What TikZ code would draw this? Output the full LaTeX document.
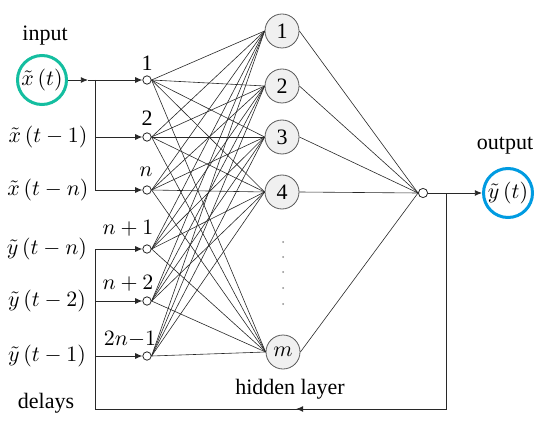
\documentclass[tikz,border=0pt]{standalone}
\usepackage{fontspec}
\setmainfont{Liberation Serif}
\usetikzlibrary{arrows.meta}
\definecolor{tealc}{RGB}{20,190,160}
\definecolor{bluec}{RGB}{0,155,225}
\definecolor{hfill}{RGB}{240,240,240}
\definecolor{linec}{RGB}{40,40,40}
\begin{document}
\begin{tikzpicture}[x=0.5pt,y=-0.5pt,
  font=\fontsize{11}{13}\selectfont,
  inp/.style={circle,draw=linec,fill=white,inner sep=0pt,minimum size=4.2pt,line width=0.4pt},
  hid/.style={circle,draw=black!65,fill=hfill,inner sep=0pt,minimum size=17pt,line width=0.4pt},
  ring/.style={circle,inner sep=0pt,minimum size=24.5pt,line width=1.5pt},
  conn/.style={draw=linec,line width=0.3pt},
  wire/.style={draw=linec,line width=0.45pt},
  arr/.style={wire,-{Latex[length=3.6pt,width=3pt]}},
  lbl/.style={inner sep=0pt}]
\useasboundingbox (0,0) rectangle (550,438);
% input / output rings
\node[ring,draw=tealc] (xin) at (42,80) {$\tilde{x}\,(t)$};
\node[lbl] (tin) at (45,36) {input};
\node[ring,draw=bluec] (yout) at (508,193) {$\tilde{y}\,(t)$};
\node[lbl] (tout) at (505,146) {output};
% left labels
\node[lbl] (lx1) at (48,137) {$\tilde{x}\,(t-1)$};
\node[lbl] (lx2) at (48,190) {$\tilde{x}\,(t-n)$};
\node[lbl] (ly1) at (47,249) {$\tilde{y}\,(t-n)$};
\node[lbl] (ly2) at (47,301) {$\tilde{y}\,(t-2)$};
\node[lbl] (ly3) at (47,356) {$\tilde{y}\,(t-1)$};
\node[lbl] (tdel) at (46,403) {delays};
\node[lbl] (thid) at (290,389) {hidden layer};
% input nodes
\node[inp] (i1) at (147,80) {};
\node[inp] (i2) at (147,137) {};
\node[inp] (i3) at (147,190) {};
\node[inp] (i4) at (147,249) {};
\node[inp] (i5) at (147,301) {};
\node[inp] (i6) at (147,356) {};
\node[lbl] (n1) at (147,63) {1};
\node[lbl] (n2) at (147,118) {2};
\node[lbl] (n3) at (146,172) {$n$};
\node[lbl] (n4) at (128,228) {$n+1$};
\node[lbl] (n5) at (128,283) {$n+2$};
\node[lbl] (n6) at (130,339) {$2n{-}1$};
% hidden nodes
\node[hid] (h1) at (282,31) {1};
\node[hid] (h2) at (282,86) {2};
\node[hid] (h3) at (282,137) {3};
\node[hid] (h4) at (282,192) {4};
\node[hid] (h5) at (283,352) {$m$};
% output summing node
\node[inp,minimum size=4.6pt] (o) at (423,193) {};
% connections
\foreach \i in {1,...,6}{
  \foreach \j in {1,...,5}{
    \draw[conn] (i\i.east) -- (h\j.west);
  }
}
\foreach \j in {1,...,5}{
  \draw[conn] (h\j.east) -- (o.west);
}
% dots
\foreach \yy in {242,257,272,288,304}{
  \fill[black!45] (283,\yy) circle (0.5pt);
}
% input wiring
\coordinate (a1) at (88,80);
\coordinate (bx0) at (95,80);
\coordinate (bx1) at (95,137);
\coordinate (bx2) at (95,190);
\draw[arr] (xin) -- (a1);
\draw[arr] (a1) -- (i1);
\draw[wire] (bx0) -- (bx2);
\draw[arr] (bx1) -- (i2);
\draw[arr] (bx2) -- (i3);
% delay wiring
\coordinate (by0) at (95,249);
\coordinate (by1) at (95,301);
\coordinate (by2) at (95,356);
\coordinate (by3) at (95,409);
\coordinate (fb) at (446,409);
\coordinate (fo) at (446,193);
\coordinate (fm) at (296,409);
\draw[wire] (by0) -- (by3) -- (fb) -- (fo);
\draw[arr] (fb) -- (fm);
\draw[arr] (by0) -- (i4);
\draw[arr] (by1) -- (i5);
\draw[arr] (by2) -- (i6);
% output
\draw[arr] (o) -- (yout);
\end{tikzpicture}
\end{document}
